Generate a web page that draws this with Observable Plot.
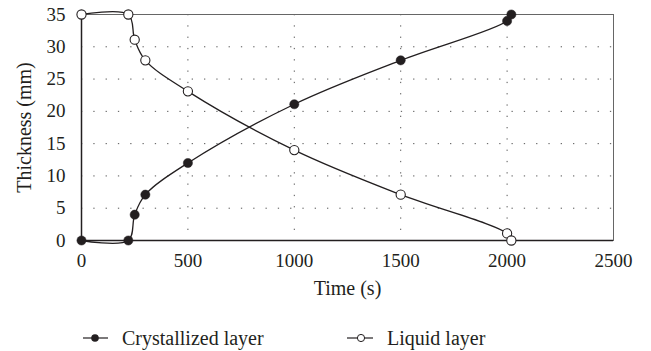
<!DOCTYPE html>
<html>
<head>
<meta charset="utf-8">
<script src="https://cdn.jsdelivr.net/npm/d3@7"></script>
<script src="https://cdn.jsdelivr.net/npm/@observablehq/plot@0.6"></script>
<style>
  * { font-family: 'Liberation Serif', 'Times New Roman', serif !important; }
  body { margin: 0; background: #fff; color: #231f20; }
  #wrap { position: relative; width: 651px; height: 351px; }
  #legend { position: absolute; left: 0; top: 310px; width: 651px; height: 41px; font-size: 20px; }
  .item { position: absolute; top: 16px; display: flex; align-items: center; height: 24px; }
  .item svg { margin-right: 13px; }
</style>
</head>
<body>
<div id="wrap">
  <div id="chart"></div>
  <div id="legend">
    <div class="item" style="left:83px"><svg width="26" height="10"><line x1="0" y1="5" x2="25" y2="5" stroke="#231f20" stroke-width="1.2"/><circle cx="12" cy="5" r="3.8" fill="#231f20"/></svg><span style="font-family:'Liberation Serif'">Crystallized layer</span></div>
    <div class="item" style="left:347px"><svg width="27" height="10"><line x1="0" y1="5" x2="26" y2="5" stroke="#231f20" stroke-width="1.2"/><circle cx="14" cy="5" r="3.6" fill="#fff" stroke="#231f20" stroke-width="1"/></svg><span style="font-family:'Liberation Serif'">Liquid layer</span></div>
  </div>
</div>
<script>
const times = [0, 220, 250, 300, 500, 1000, 1500, 2000, 2020];
const crystallized = [0, 0, 4.0, 7.1, 12.0, 21.1, 27.9, 34.0, 35.0];
const liquid = [35, 35, 31.1, 27.9, 23.1, 14.0, 7.1, 1.1, 0];
const xTicks = [0, 500, 1000, 1500, 2000, 2500];
const yTicks = [0, 5, 10, 15, 20, 25, 30, 35];

const cData = times.map((t, i) => ({t, v: crystallized[i]}));
const lData = times.map((t, i) => ({t, v: liquid[i]}));
const ink = "#231f20";
const fam = "'Liberation Serif', 'Times New Roman', serif";

const chart = Plot.plot({
  width: 651,
  height: 310,
  marginTop: 14,
  marginBottom: 70,
  marginLeft: 81,
  marginRight: 38,
  style: {fontFamily: fam, fontSize: "19px", color: ink, background: "#fff"},
  x: {domain: [0, 2500]},
  y: {domain: [0, 35]},
  marks: [
    Plot.gridX(xTicks.slice(1, -1), {stroke: "#555", strokeOpacity: 1, strokeDasharray: "1.3,10"}),
    Plot.gridY(yTicks.slice(1, -1), {stroke: "#555", strokeOpacity: 1, strokeDasharray: "1.3,11"}),
    Plot.frame({stroke: "#666", strokeWidth: 1}),
    Plot.ruleX([0], {stroke: ink, strokeWidth: 1.5}),
    Plot.ruleY([0], {stroke: ink, strokeWidth: 1.5}),
    Plot.axisX(xTicks, {tickSize: 0, tickPadding: 13, label: null, fontSize: 19, tickFormat: d3.format("d")}),
    Plot.axisY(yTicks, {tickSize: 0, tickPadding: 16, label: null, fontSize: 19, tickFormat: d3.format("d")}),
    Plot.text(["Time (s)"], {frameAnchor: "bottom", dy: 48, lineAnchor: "middle", fontSize: 20, fill: ink}),
    Plot.text(["Thickness (mm)"], {frameAnchor: "left", dx: -57, rotate: -90, textAnchor: "middle", lineAnchor: "middle", fontSize: 20, fill: ink}),
    Plot.line(cData, {x: "t", y: "v", curve: "catmull-rom", stroke: ink, strokeWidth: 1.3}),
    Plot.line(lData, {x: "t", y: "v", curve: "catmull-rom", stroke: ink, strokeWidth: 1.3}),
    Plot.dot(cData, {x: "t", y: "v", r: 4.6, fill: ink, stroke: ink, strokeWidth: 0.5}),
    Plot.dot(lData, {x: "t", y: "v", r: 4.6, fill: "#fff", stroke: ink, strokeWidth: 1.1})
  ]
});
chart.querySelectorAll("text").forEach(t => t.style.fontFamily = fam);
document.getElementById("chart").appendChild(chart);
</script>
</body>
</html>
